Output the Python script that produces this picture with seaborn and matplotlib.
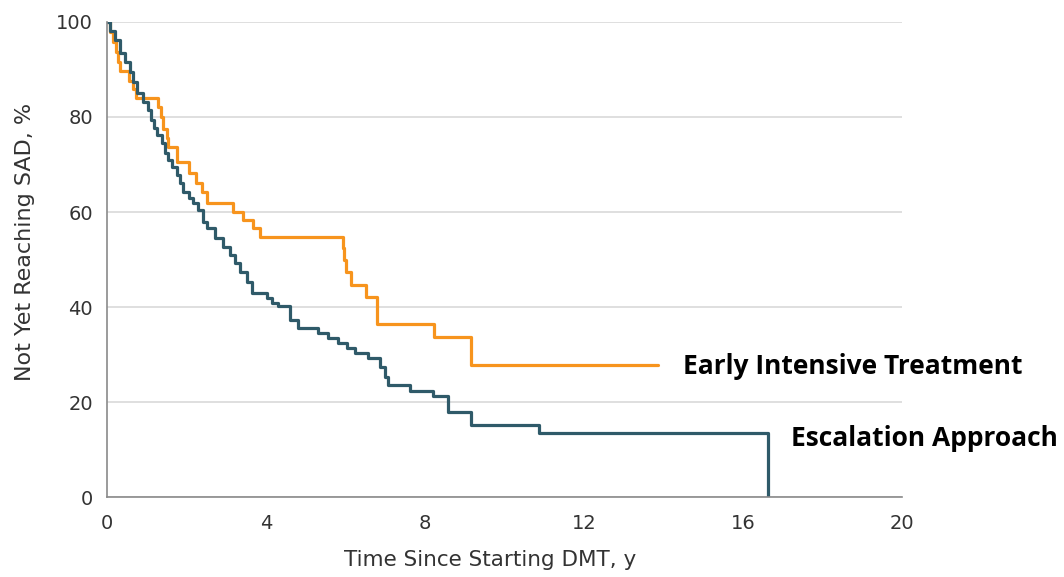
import pandas as pd
import matplotlib.pyplot as plt
import seaborn as sns

# Kaplan-Meier style step values (time in years, % not yet reaching SAD)
early_time = [0, 0.08, 0.15, 0.22, 0.28, 0.33, 0.55, 0.65, 0.72, 1.27, 1.35, 1.42, 1.50,
              1.53, 1.76, 2.05, 2.24, 2.40, 2.52, 3.17, 3.42, 3.68, 3.85, 5.94, 5.97,
              6.02, 6.15, 6.51, 6.78, 6.80, 8.23, 9.16, 13.86]
early_surv = [100, 97.9, 95.7, 93.6, 91.5, 89.7, 87.5, 85.8, 84.0, 82.0, 80.0, 77.5, 75.5,
              73.7, 70.5, 68.2, 66.0, 64.2, 62.0, 60.0, 58.3, 56.6, 54.7, 52.4, 49.9,
              47.3, 44.7, 42.1, 39.3, 36.4, 33.6, 27.8, 27.8]

esc_time = [0, 0.08, 0.20, 0.33, 0.45, 0.58, 0.65, 0.75, 0.91, 1.04, 1.10, 1.17, 1.25,
            1.38, 1.46, 1.54, 1.63, 1.75, 1.84, 1.92, 2.05, 2.17, 2.30, 2.42, 2.51, 2.72,
            2.93, 3.09, 3.22, 3.35, 3.51, 3.64, 4.02, 4.14, 4.31, 4.60, 4.81, 5.32, 5.57,
            5.82, 6.03, 6.24, 6.57, 6.87, 6.99, 7.07, 7.62, 8.20, 8.58, 9.16, 10.87, 16.63]
esc_surv = [100, 98.0, 96.2, 93.4, 91.6, 89.5, 87.4, 85.0, 83.2, 81.5, 79.4, 77.6, 76.2,
            74.5, 72.4, 70.9, 69.5, 67.8, 66.0, 64.3, 62.9, 61.8, 60.4, 58.0, 56.6, 54.5,
            52.7, 50.9, 49.2, 47.4, 45.3, 42.9, 41.8, 40.8, 40.2, 37.3, 35.5, 34.5, 33.4,
            32.4, 31.3, 30.3, 29.2, 27.4, 25.3, 23.6, 22.3, 21.3, 18.0, 15.2, 13.5, 0]

groups = ['Early Intensive Treatment', 'Escalation Approach']
colors = {'Early Intensive Treatment': '#F7941D', 'Escalation Approach': '#2F5A69'}

df = pd.concat([
    pd.DataFrame({'time': early_time, 'surv': early_surv, 'group': groups[0]}),
    pd.DataFrame({'time': esc_time, 'surv': esc_surv, 'group': groups[1]}),
])

sns.set_theme(style='white')
plt.rcParams['font.family'] = ['DejaVu Sans']

fig = plt.figure(figsize=(10.64, 5.77), dpi=100)
ax = fig.add_axes([0.1006, 0.1386, 0.7471, 0.8233])

sns.lineplot(data=df, x='time', y='surv', hue='group', palette=colors,
             estimator=None, sort=False, drawstyle='steps-post', linewidth=2.3,
             legend=False, ax=ax)

ax.set_xlim(0, 20)
ax.set_ylim(0, 100)
ax.set_xticks([0, 4, 8, 12, 16, 20])
ax.set_yticks([0, 20, 40, 60, 80, 100])
ax.yaxis.grid(True, color='#dcdcdc', linewidth=1.3)
ax.set_axisbelow(True)

for side in ['top', 'right']:
    ax.spines[side].set_visible(False)
for side in ['left', 'bottom']:
    ax.spines[side].set_color('#8a8a8a')
    ax.spines[side].set_linewidth(1.2)

ax.tick_params(axis='both', direction='out', length=6, width=1, color='#8a8a8a',
               labelsize=14, labelcolor='#333333', pad=4)
ax.tick_params(axis='x', pad=6)

ax.set_xlabel('Time Since Starting DMT, y', fontsize=15.5, color='#333333')
ax.set_ylabel('Not Yet Reaching SAD, %', fontsize=16, color='#333333')
ax.xaxis.set_label_coords(0.482, -0.112)
ax.yaxis.set_label_coords(-0.09, 0.537)

# Curve labels to the right of the lines
ax.text(14.49, 27.4, groups[0], fontsize=19, fontweight='bold', family='Open Sans',
        color='black', va='center', ha='left', clip_on=False)
ax.text(17.21, 12.4, groups[1], fontsize=19, fontweight='bold', family='Open Sans',
        color='black', va='center', ha='left', clip_on=False)

plt.savefig('out.png', dpi=100)
